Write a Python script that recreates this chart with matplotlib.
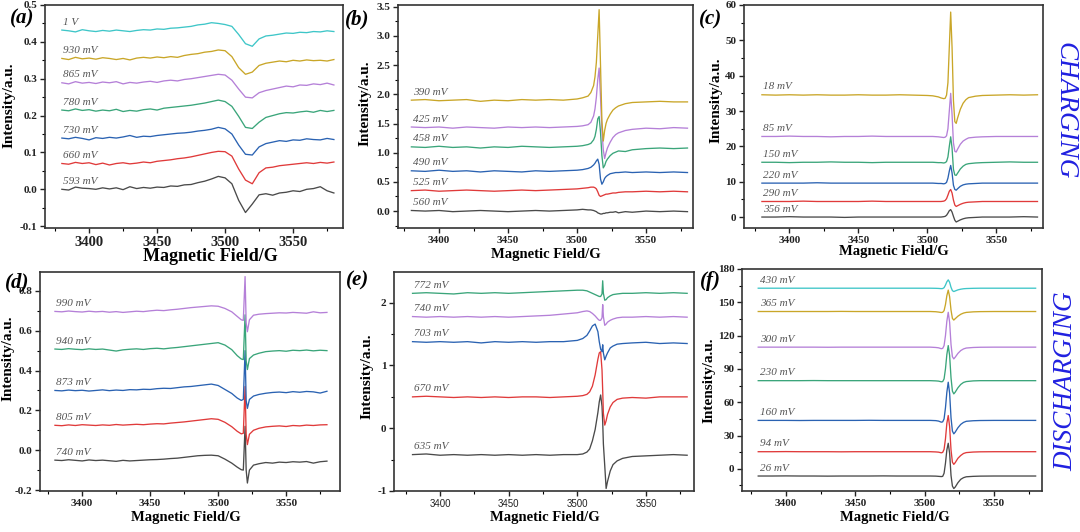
import matplotlib.pyplot as plt
from matplotlib.ticker import MultipleLocator, FormatStrFormatter

plt.rcParams['font.family'] = ['Liberation Serif', 'DejaVu Serif']

# ---------------------------------------------------------------- data
# (a) charging, broad signal, 3380-3580 G every 5 G
field_a = [3380, 3385, 3390, 3395, 3400, 3405, 3410, 3415, 3420, 3425,
           3430, 3435, 3440, 3445, 3450, 3455, 3460, 3465, 3470, 3475,
           3480, 3485, 3490, 3495, 3500, 3505, 3510, 3515, 3520, 3525,
           3530, 3535, 3540, 3545, 3550, 3555, 3560, 3565, 3570, 3575, 3580]
a_593 = [.000, -.002, .006, .003, .002, .000, .004, .001, .004, -.001,
         .007, .002, .005, .003, .006, .005, .009, .008, .012, .013,
         .018, .022, .028, .035, .031, .015, -.030, -.063, -.040, -.015,
         -.012, -.016, -.010, -.008, -.004, -.006, .000, .002, .007, -.004, -.010]
a_660 = [.070, .068, .073, .070, .072, .067, .071, .066, .070, .072,
         .069, .071, .074, .072, .076, .078, .080, .083, .085, .088,
         .092, .096, .100, .103, .102, .090, .055, .025, .015, .045,
         .058, .060, .064, .066, .068, .070, .072, .070, .073, .071, .074]
a_730 = [.139, .137, .141, .138, .134, .140, .138, .141, .139, .142,
         .146, .141, .144, .143, .146, .148, .150, .152, .153, .155,
         .158, .160, .163, .168, .164, .150, .120, .095, .093, .115,
         .124, .128, .132, .130, .134, .133, .137, .135, .134, .138, .135]
a_780 = [.215, .213, .218, .214, .216, .212, .215, .213, .217, .211,
         .214, .212, .216, .218, .215, .220, .222, .224, .226, .228,
         .231, .234, .238, .242, .238, .225, .198, .168, .165, .182,
         .195, .200, .205, .208, .207, .210, .212, .209, .214, .211, .214]
a_865 = [.289, .286, .292, .288, .290, .287, .291, .289, .292, .286,
         .290, .288, .291, .293, .290, .294, .296, .294, .298, .300,
         .303, .306, .309, .312, .310, .296, .272, .250, .248, .262,
         .268, .272, .276, .280, .278, .283, .282, .286, .284, .288, .283]
a_930 = [.355, .352, .358, .354, .356, .353, .357, .355, .352, .355,
         .351, .356, .358, .356, .359, .357, .360, .358, .363, .366,
         .368, .372, .374, .378, .376, .360, .330, .312, .318, .336,
         .342, .345, .348, .346, .350, .348, .351, .349, .350, .348, .352]
a_1v = [.432, .430, .427, .433, .430, .428, .431, .429, .432, .430,
        .428, .431, .433, .432, .435, .434, .437, .438, .440, .442,
        .446, .448, .452, .450, .447, .442, .420, .395, .388, .408,
        .416, .418, .421, .424, .423, .426, .425, .428, .427, .430, .428]
labels_a = ['593 mV', '660 mV', '730 mV', '780 mV', '865 mV', '930 mV', '1 V']

# (b), (c), (f) narrow signal, denser sampling around 3515 G
field_n = [3380, 3390, 3400, 3410, 3420, 3430, 3440, 3450, 3460, 3470,
           3480, 3490, 3500, 3504, 3508, 3510, 3512, 3513, 3514, 3515,
           3516, 3517, 3518, 3519, 3520, 3521, 3522, 3524, 3526, 3528,
           3530, 3535, 3540, 3550, 3560, 3570, 3580]
b_560 = [0.01, 0.00, 0.01, -0.01, 0.00, 0.01, 0.00, -0.01, 0.00, 0.01,
         0.00, 0.01, 0.02, 0.03, 0.02, 0.02, 0.01, 0.00, -0.01, -0.03,
         -0.04, -0.05, -0.05, -0.04, -0.04, -0.03, -0.03, -0.02, -0.02, -0.01,
         -0.03, -0.01, -0.02, 0.00, -0.01, 0.00, -0.01]
b_525 = [0.35, 0.36, 0.34, 0.35, 0.36, 0.35, 0.34, 0.35, 0.36, 0.35,
         0.36, 0.37, 0.38, 0.39, 0.40, 0.41, 0.41, 0.40, 0.38, 0.33,
         0.27, 0.25, 0.26, 0.27, 0.28, 0.29, 0.29, 0.30, 0.31, 0.31,
         0.32, 0.33, 0.33, 0.34, 0.33, 0.34, 0.33]
b_490 = [0.69, 0.68, 0.70, 0.68, 0.69, 0.67, 0.69, 0.68, 0.67, 0.69,
         0.68, 0.69, 0.70, 0.71, 0.73, 0.75, 0.79, 0.82, 0.86, 0.89,
         0.80, 0.55, 0.46, 0.50, 0.56, 0.59, 0.61, 0.64, 0.65, 0.66,
         0.66, 0.67, 0.66, 0.67, 0.66, 0.67, 0.66]
b_458 = [1.10, 1.09, 1.11, 1.09, 1.10, 1.08, 1.10, 1.09, 1.11, 1.10,
         1.09, 1.10, 1.11, 1.12, 1.14, 1.16, 1.22, 1.28, 1.40, 1.58,
         1.62, 1.35, 0.95, 0.74, 0.78, 0.85, 0.89, 0.95, 0.99, 1.01,
         1.03, 1.02, 1.05, 1.07, 1.08, 1.07, 1.08]
b_425 = [1.44, 1.43, 1.44, 1.42, 1.44, 1.43, 1.42, 1.44, 1.43, 1.44,
         1.43, 1.44, 1.45, 1.46, 1.48, 1.52, 1.63, 1.75, 1.95, 2.25,
         2.45, 1.95, 1.40, 1.05, 0.90, 1.00, 1.08, 1.18, 1.26, 1.31,
         1.34, 1.38, 1.40, 1.42, 1.41, 1.43, 1.42]
b_390 = [1.90, 1.91, 1.89, 1.90, 1.91, 1.88, 1.90, 1.89, 1.91, 1.90,
         1.91, 1.90, 1.92, 1.94, 1.97, 2.03, 2.15, 2.30, 2.55, 3.00,
         3.45, 2.50, 1.55, 1.20, 1.38, 1.50, 1.57, 1.66, 1.73, 1.77,
         1.80, 1.84, 1.86, 1.87, 1.88, 1.87, 1.87]
labels_b = ['560 mV', '525 mV', '490 mV', '458 mV', '425 mV', '390 mV']

c_356 = [0.0, 0.0, 0.1, 0.0, 0.0, 0.0, -0.1, 0.0, 0.0, 0.0,
         0.0, 0.0, 0.0, 0.0, 0.0, 0.0, 0.1, 0.2, 0.5, 1.1,
         1.8, 2.1, 1.4, 0.2, -0.9, -1.4, -1.2, -0.8, -0.5, -0.3,
         -0.2, -0.1, 0.0, 0.0, 0.0, 0.1, 0.0]
c_290 = [4.4, 4.4, 4.4, 4.5, 4.4, 4.4, 4.4, 4.4, 4.5, 4.4,
         4.4, 4.4, 4.4, 4.4, 4.4, 4.4, 4.5, 4.7, 5.2, 6.2,
         7.3, 7.8, 6.8, 4.8, 3.4, 3.0, 3.2, 3.6, 3.9, 4.1,
         4.2, 4.3, 4.4, 4.4, 4.4, 4.4, 4.4]
c_220 = [9.6, 9.6, 9.6, 9.6, 9.7, 9.6, 9.6, 9.6, 9.6, 9.6,
         9.6, 9.6, 9.6, 9.6, 9.5, 9.5, 9.4, 9.5, 9.8, 11.0,
         13.0, 14.6, 12.5, 9.0, 7.8, 7.6, 8.0, 8.7, 9.1, 9.3,
         9.4, 9.5, 9.6, 9.6, 9.6, 9.6, 9.6]
c_150 = [15.5, 15.5, 15.4, 15.5, 15.5, 15.6, 15.5, 15.5, 15.4, 15.5,
         15.5, 15.5, 15.5, 15.5, 15.4, 15.4, 15.3, 15.4, 15.7, 17.0,
         20.0, 22.7, 19.5, 13.5, 11.9, 11.8, 12.4, 13.6, 14.4, 14.9,
         15.1, 15.3, 15.4, 15.5, 15.6, 15.5, 15.5]
c_85 = [22.8, 22.8, 22.9, 22.8, 22.8, 22.7, 22.8, 22.8, 22.9, 22.8,
        22.8, 22.8, 22.8, 22.8, 22.7, 22.6, 22.5, 22.6, 23.0, 25.0,
        30.0, 35.0, 29.0, 21.0, 18.6, 18.4, 19.2, 20.6, 21.5, 22.0,
        22.4, 22.6, 22.7, 22.8, 22.8, 22.8, 22.8]
c_18 = [34.6, 34.5, 34.6, 34.5, 34.6, 34.5, 34.5, 34.6, 34.5, 34.5,
        34.6, 34.5, 34.4, 34.3, 34.0, 33.7, 33.5, 33.6, 34.5, 38.0,
        48.0, 58.0, 48.0, 33.0, 27.0, 26.5, 28.0, 30.5, 32.2, 33.2,
        33.8, 34.2, 34.4, 34.5, 34.6, 34.5, 34.6]
labels_c = ['356 mV', '290 mV', '220 mV', '150 mV', '85 mV', '18 mV']

# (d) discharging, broad signal plus a very narrow line near 3520 G
field_d = [3380, 3385, 3390, 3395, 3400, 3405, 3410, 3415, 3420, 3425,
           3430, 3435, 3440, 3445, 3450, 3455, 3460, 3465, 3470, 3475,
           3480, 3485, 3490, 3495, 3500, 3505, 3510, 3514, 3517, 3518.5,
           3519.8, 3520.6, 3521.5, 3523, 3526, 3530, 3535, 3540, 3545, 3550,
           3555, 3560, 3565, 3570, 3575, 3580]
d_740 = [-.050, -.052, -.048, -.051, -.054, -.049, -.052, -.050, -.053, -.056,
         -.051, -.054, -.052, -.050, -.048, -.047, -.045, -.042, -.040, -.036,
         -.032, -.028, -.026, -.025, -.028, -.045, -.065, -.085, -.098, -.100,
         .120, -.100, -.165, -.100, -.075, -.068, -.062, -.065, -.060, -.062,
         -.058, -.060, -.057, -.065, -.058, -.055]
d_805 = [.125, .123, .127, .124, .128, .126, .124, .127, .125, .129,
         .126, .128, .130, .128, .131, .133, .132, .136, .139, .142,
         .146, .150, .154, .158, .155, .140, .118, .095, .082, .085,
         .320, .080, .028, .080, .100, .110, .117, .120, .122, .119,
         .124, .122, .126, .124, .127, .128]
d_873 = [.300, .298, .302, .299, .301, .297, .300, .303, .299, .302,
         .300, .304, .303, .306, .305, .309, .311, .310, .314, .318,
         .320, .324, .328, .332, .325, .305, .285, .262, .250, .255,
         .500, .250, .210, .255, .272, .280, .286, .290, .292, .289,
         .294, .291, .295, .293, .287, .296]
d_940 = [.508, .506, .510, .507, .505, .509, .506, .508, .503, .498,
         .504, .507, .509, .506, .510, .512, .509, .513, .516, .520,
         .524, .528, .532, .536, .540, .528, .505, .475, .458, .455,
         .680, .450, .405, .460, .478, .487, .495, .498, .500, .497,
         .502, .500, .503, .499, .502, .500]
d_990 = [.697, .695, .699, .696, .694, .698, .695, .697, .693, .696,
         .692, .695, .698, .696, .700, .703, .701, .705, .708, .712,
         .716, .719, .722, .725, .723, .712, .695, .672, .655, .652,
         .872, .640, .595, .655, .678, .683, .686, .688, .690, .689,
         .692, .690, .688, .695, .690, .692]
labels_d = ['740 mV', '805 mV', '873 mV', '940 mV', '990 mV']

# (e) discharging
field_e = [3380, 3390, 3400, 3410, 3420, 3430, 3440, 3450, 3460, 3470,
           3480, 3490, 3500, 3504, 3507, 3509, 3511, 3513, 3515, 3516,
           3517, 3518, 3518.5, 3519, 3520, 3521, 3522, 3524, 3526, 3529,
           3533, 3540, 3550, 3560, 3570, 3580]
e_635 = [-0.42, -0.41, -0.43, -0.42, -0.43, -0.42, -0.43, -0.42, -0.43, -0.42,
         -0.43, -0.42, -0.42, -0.41, -0.38, -0.33, -0.20, -0.02, 0.25, 0.42,
         0.53, 0.35, 0.10, -0.25, -0.60, -0.96, -0.85, -0.68, -0.58, -0.52,
         -0.48, -0.45, -0.44, -0.43, -0.42, -0.43]
e_670 = [0.50, 0.51, 0.50, 0.49, 0.50, 0.49, 0.50, 0.49, 0.50, 0.50,
         0.49, 0.50, 0.51, 0.52, 0.54, 0.58, 0.67, 0.85, 1.10, 1.20,
         1.22, 0.93, 0.60, 0.24, 0.05, 0.12, 0.22, 0.34, 0.41, 0.46,
         0.48, 0.49, 0.48, 0.50, 0.50, 0.50]
e_703 = [1.38, 1.37, 1.38, 1.37, 1.38, 1.36, 1.38, 1.37, 1.38, 1.37,
         1.38, 1.38, 1.40, 1.43, 1.48, 1.55, 1.63, 1.66, 1.54, 1.38,
         1.26, 1.22, 1.33, 1.20, 1.09, 1.15, 1.20, 1.28, 1.31, 1.34,
         1.35, 1.36, 1.37, 1.35, 1.36, 1.35]
e_740 = [1.78, 1.77, 1.78, 1.77, 1.78, 1.77, 1.78, 1.77, 1.78, 1.79,
         1.80, 1.82, 1.84, 1.86, 1.87, 1.86, 1.83, 1.79, 1.74, 1.72,
         1.72, 1.76, 1.97, 1.78, 1.64, 1.66, 1.69, 1.72, 1.74, 1.76,
         1.77, 1.77, 1.78, 1.77, 1.78, 1.77]
e_772 = [2.15, 2.16, 2.15, 2.14, 2.16, 2.15, 2.16, 2.15, 2.16, 2.17,
         2.18, 2.19, 2.20, 2.20, 2.19, 2.17, 2.15, 2.13, 2.11, 2.10,
         2.10, 2.14, 2.35, 2.15, 2.04, 2.05, 2.08, 2.11, 2.13, 2.14,
         2.15, 2.15, 2.16, 2.15, 2.16, 2.15]
labels_e = ['635 mV', '670 mV', '703 mV', '740 mV', '772 mV']

# (f) discharging, same sampling as (b)/(c)
f_26 = [-6.5, -6.5, -6.4, -6.5, -6.5, -6.6, -6.5, -6.5, -6.5, -6.4,
        -6.5, -6.5, -6.5, -6.5, -6.6, -6.8, -7.0, -6.8, -4.0, 5.0,
        17.0, 23.0, 14.0, -6.0, -15.5, -17.8, -16.5, -12.5, -9.5, -8.0,
        -7.2, -6.8, -6.6, -6.5, -6.5, -6.5, -6.5]
f_94 = [15.4, 15.4, 15.5, 15.4, 15.4, 15.4, 15.3, 15.4, 15.4, 15.4,
        15.4, 15.4, 15.4, 15.4, 15.2, 15.0, 14.4, 14.8, 17.5, 27.0,
        41.0, 48.0, 38.0, 17.0, 6.0, 4.0, 5.5, 9.5, 12.0, 13.8,
        14.6, 15.1, 15.3, 15.4, 15.4, 15.4, 15.4]
f_160 = [43.6, 43.6, 43.6, 43.5, 43.6, 43.6, 43.6, 43.6, 43.7, 43.6,
         43.6, 43.6, 43.6, 43.6, 43.4, 43.0, 42.0, 42.3, 45.0, 55.0,
         69.0, 78.0, 68.0, 46.0, 34.0, 31.5, 33.0, 37.0, 40.0, 41.8,
         42.8, 43.3, 43.5, 43.6, 43.6, 43.6, 43.6]
f_230 = [79.4, 79.4, 79.4, 79.4, 79.5, 79.4, 79.4, 79.4, 79.4, 79.4,
         79.4, 79.4, 79.4, 79.4, 79.2, 79.0, 78.4, 78.6, 81.0, 90.0,
         103.0, 111.0, 102.0, 82.0, 70.0, 67.5, 69.0, 73.0, 76.0, 77.8,
         78.6, 79.2, 79.4, 79.4, 79.4, 79.4, 79.4]
f_300 = [109.6, 109.6, 109.6, 109.6, 109.6, 109.5, 109.6, 109.6, 109.6, 109.6,
         109.6, 109.6, 109.6, 109.6, 109.3, 109.0, 108.2, 108.5, 111.0, 120.0,
         133.0, 141.0, 132.0, 112.0, 101.0, 99.0, 100.5, 104.0, 106.5, 108.0,
         108.8, 109.3, 109.5, 109.6, 109.6, 109.6, 109.6]
f_365 = [141.7, 141.7, 141.7, 141.7, 141.7, 141.7, 141.8, 141.7, 141.7, 141.7,
         141.7, 141.7, 141.7, 141.7, 141.5, 141.2, 140.8, 141.0, 142.5, 148.0,
         156.0, 161.0, 155.0, 143.0, 135.5, 134.0, 135.2, 137.5, 139.2, 140.3,
         140.9, 141.4, 141.6, 141.7, 141.7, 141.7, 141.7]
f_430 = [162.7, 162.7, 162.7, 162.7, 162.7, 162.7, 162.7, 162.7, 162.7, 162.7,
         162.7, 162.7, 162.7, 162.7, 162.6, 162.5, 162.3, 162.4, 163.2, 165.5,
         168.5, 170.2, 168.0, 163.5, 160.5, 159.7, 160.2, 161.2, 161.8, 162.2,
         162.4, 162.6, 162.7, 162.7, 162.7, 162.7, 162.7]
labels_f = ['26 mV', '94 mV', '160 mV', '230 mV', '300 mV', '365 mV', '430 mV']

# ---------------------------------------------------------------- style
GRAY, RED, BLUE, GREEN = '#4a4a4a', '#e03a3a', '#2a62b2', '#3aa57a'
PURPLE, GOLD, CYAN = '#b580d8', '#c9a628', '#3ec6c8'
LABEL_COLOR = '#555555'
TEXT_BLUE = '#2020e0'

W, H = 1080, 532

# pixel layout: box = (left, top, right, bottom); label centres in pixels
panels = [
    dict(letter='(a)', box=(45, 5, 343, 228), xlim=(3367.6, 3586.7), field=field_a,
         curves=[a_593, a_660, a_730, a_780, a_865, a_930, a_1v], names=labels_a,
         colors=[GRAY, RED, BLUE, GREEN, PURPLE, GOLD, CYAN],
         ylim=(-0.105, 0.5), ystep=0.1, yfmt='%.1f',
         letter_xy=(34, 18), xlab_xy=(210, 257), ylab_xy=(9, 105),
         xlab_size=13, xtick_size=10.5),
    dict(letter='(b)', box=(398, 5, 693, 228), xlim=(3370.3, 3584), field=field_n,
         curves=[b_560, b_525, b_490, b_458, b_425, b_390], names=labels_b,
         colors=[GRAY, RED, BLUE, GREEN, PURPLE, GOLD],
         ylim=(-0.29, 3.53), ystep=0.5, yfmt='%.1f',
         letter_xy=(369, 19), xlab_xy=(546, 254), ylab_xy=(365, 103),
         xlab_size=10.5, xtick_size=8),
    dict(letter='(c)', box=(744, 5, 1043, 228), xlim=(3367, 3584), field=field_n,
         curves=[c_356, c_290, c_220, c_150, c_85, c_18], names=labels_c,
         colors=[GRAY, RED, BLUE, GREEN, PURPLE, GOLD],
         ylim=(-3.1, 60), ystep=10, yfmt='%d',
         letter_xy=(722, 19), xlab_xy=(894, 251), ylab_xy=(716, 100),
         xlab_size=10.5, xtick_size=8),
    dict(letter='(d)', box=(40, 272, 340, 491), xlim=(3369, 3589.6), field=field_d,
         curves=[d_740, d_805, d_873, d_940, d_990], names=labels_d,
         colors=[GRAY, RED, BLUE, GREEN, PURPLE],
         ylim=(-0.205, 0.895), ystep=0.2, yfmt='%.1f',
         letter_xy=(29, 282), xlab_xy=(186, 517), ylab_xy=(8, 358),
         xlab_size=10.5, xtick_size=8),
    dict(letter='(e)', box=(394, 272, 694, 491), xlim=(3366.5, 3585), field=field_e,
         curves=[e_635, e_670, e_703, e_740, e_772], names=labels_e,
         colors=[GRAY, RED, BLUE, PURPLE, GREEN],
         ylim=(-1.0, 2.49), ystep=1, yfmt='%d',
         letter_xy=(369, 280), xlab_xy=(545, 517), ylab_xy=(367, 376),
         xlab_size=10.5, xtick_size=7),
    dict(letter='(f)', box=(742, 269, 1042, 491), xlim=(3368.3, 3584.6), field=field_n,
         curves=[f_26, f_94, f_160, f_230, f_300, f_365, f_430], names=labels_f,
         colors=[GRAY, RED, BLUE, GREEN, PURPLE, GOLD, CYAN],
         ylim=(-20, 180), ystep=30, yfmt='%d',
         letter_xy=(721, 281), xlab_xy=(895, 518), ylab_xy=(709, 380),
         xlab_size=10.5, xtick_size=8),
]

fig = plt.figure(figsize=(W / 100, H / 100), dpi=100)

for p in panels:
    l, t, r, b = p['box']
    ax = fig.add_axes([l / W, 1 - b / H, (r - l) / W, (b - t) / H])
    for vals, name, col in zip(p['curves'], p['names'], p['colors']):
        ax.plot(p['field'], vals, color=col, lw=0.95)
        ax.annotate(name, (p['field'][0], vals[0]), xytext=(1, 2.5),
                    textcoords='offset points', ha='left', va='bottom',
                    fontsize=8, style='italic', color=LABEL_COLOR)
    ax.set_xlim(*p['xlim'])
    ax.set_ylim(*p['ylim'])
    ax.xaxis.set_major_locator(MultipleLocator(50))
    ax.xaxis.set_minor_locator(MultipleLocator(25))
    ax.yaxis.set_major_locator(MultipleLocator(p['ystep']))
    ax.yaxis.set_minor_locator(MultipleLocator(p['ystep'] / 2))
    ax.yaxis.set_major_formatter(FormatStrFormatter(p['yfmt']))
    ax.tick_params(which='major', direction='out', length=3.5, width=1.0,
                   labelsize=8, pad=2, colors='#222222')
    ax.tick_params(which='minor', direction='out', length=2, width=0.8)
    for lab in ax.get_yticklabels():
        lab.set_fontweight('bold')
    for lab in ax.get_xticklabels():
        lab.set_fontsize(p['xtick_size'])
        if p['letter'] == '(e)':
            lab.set_family(['Liberation Sans', 'DejaVu Sans'])
        else:
            lab.set_fontweight('bold')
    for sp in ax.spines.values():
        sp.set_linewidth(1.2)
        sp.set_color('#333333')

    to_axes = fig.transFigure
    xl, yl = p['xlab_xy']
    ax.set_xlabel('Magnetic Field/G', fontsize=p['xlab_size'], fontweight='bold')
    ax.xaxis.set_label_coords(xl / W, 1 - yl / H, transform=to_axes)
    ax.xaxis.label.set_va('center')
    xl, yl = p['ylab_xy']
    ax.set_ylabel('Intensity/a.u.', fontsize=11, fontweight='bold')
    ax.yaxis.set_label_coords(xl / W, 1 - yl / H, transform=to_axes)
    ax.yaxis.label.set_va('center')

    lx, ly = p['letter_xy']
    fig.text(lx / W, 1 - ly / H, p['letter'], fontsize=15, fontweight='bold',
             style='italic', ha='right', va='center')

fig.text(1065 / W, 1 - 111 / H, 'CHARGING', rotation=-90, fontsize=19.5,
         style='italic', color=TEXT_BLUE, ha='center', va='center')
fig.text(1066 / W, 1 - 381 / H, 'DISCHARGING', rotation=90, fontsize=19.5,
         style='italic', color=TEXT_BLUE, ha='center', va='center')

fig.savefig('out.png', dpi=100)
